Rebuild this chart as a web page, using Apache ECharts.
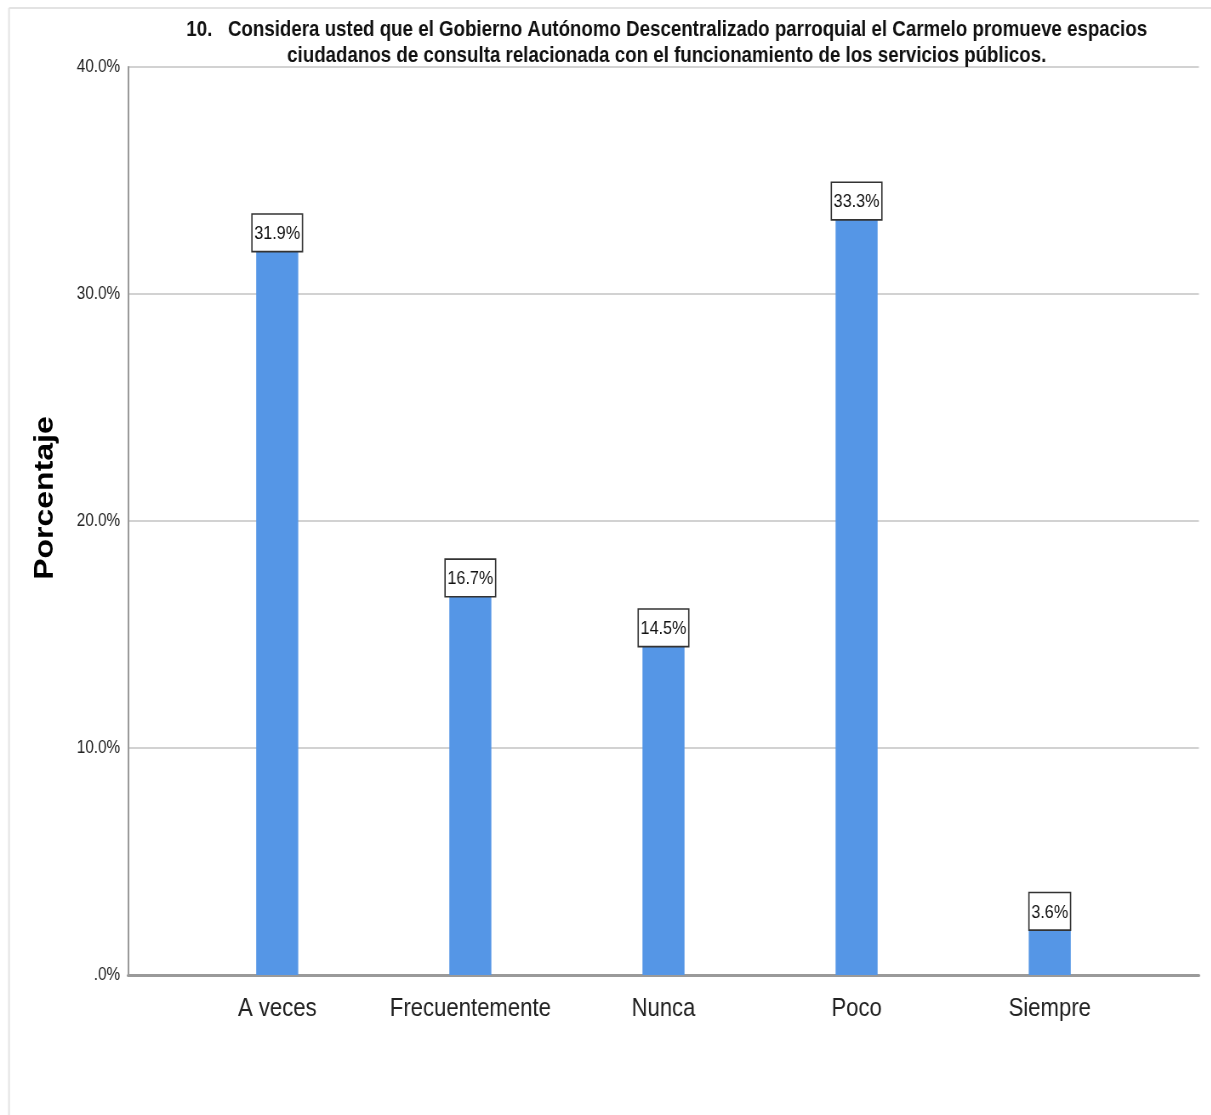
<!DOCTYPE html>
<html>
<head>
<meta charset="utf-8">
<script src="https://cdn.jsdelivr.net/npm/echarts@6/dist/echarts.min.js"></script>
<style>
  html, body { margin: 0; padding: 0; background: #fff; overflow: hidden; width: 1211px; height: 1115px; }
  #chart { height: 1115px; transform-origin: 0 0; }
</style>
</head>
<body>
<div id="chart"></div>
<script>
// Survey answers and their share of respondents (%)
const categories = ['A veces', 'Frecuentemente', 'Nunca', 'Poco', 'Siempre'];
const percentages = [31.9, 16.7, 14.5, 33.3, 3.6];
const yTicks = [0, 10, 20, 30, 40];
const titleLines = [
  '10.   Considera usted que el Gobierno Autónomo Descentralizado parroquial el Carmelo promueve espacios',
  'ciudadanos de consulta relacionada con el funcionamiento de los servicios públicos.'
];
const axisTitle = 'Porcentaje';

// The chart is laid out on a wider canvas and squeezed horizontally,
// which gives the tall, condensed lettering of the exported figure.
const SX = 0.85;
const PAGE_W = 1211;
const W = PAGE_W / SX;
const X = px => px / SX;          // page x -> chart x
const FONT = '"Liberation Sans", Arial, sans-serif';

const el = document.getElementById('chart');
el.style.width = W + 'px';
el.style.transform = 'scaleX(' + SX + ')';

const yMin = yTicks[0];
const yMax = yTicks[yTicks.length - 1];
const yStep = yTicks[1] - yTicks[0];

const labelBox = {
  show: true,
  formatter: p => p.value.toFixed(1) + '%',
  fontFamily: FONT,
  fontSize: 19,
  lineHeight: 22,
  color: '#111',
  backgroundColor: '#fff',
  borderColor: '#333',
  borderWidth: 1.6,
  padding: [8, 2, 6, 2],
  distance: 0
};

const barData = percentages.map(v => ({
  value: v,
  // the smallest bar carries its label just inside its top edge
  label: v < 5 ? { position: 'insideTop' } : { position: 'top' }
}));

const plotLeft = X(128), plotRight = X(1198);
const barLeft = X(180.5), barRight = X(1145.5);

const chart = echarts.init(el, null, { renderer: 'canvas', width: W, height: 1115 });

chart.setOption({
  backgroundColor: '#fff',
  animation: false,
  title: {
    text: titleLines.join('\n'),
    left: X(662),
    top: 12,
    textAlign: 'center',
    textStyle: {
      fontFamily: FONT,
      fontSize: 22,
      fontWeight: 'bold',
      lineHeight: 26,
      color: '#111'
    }
  },
  graphic: [
    { type: 'line', shape: { x1: X(9), y1: 8, x2: W, y2: 8 }, style: { stroke: '#e3e3e3', lineWidth: 2 }, z: 0 },
    { type: 'line', shape: { x1: X(9), y1: 8, x2: X(9), y2: 1115 }, style: { stroke: '#e3e3e3', lineWidth: 2 }, z: 0 },
    {
      type: 'text',
      x: X(45),
      y: 498,
      rotation: Math.PI / 2,
      style: {
        text: axisTitle,
        fontFamily: FONT,
        fontWeight: 'bold',
        fontSize: 32,
        fill: '#000',
        align: 'center',
        verticalAlign: 'middle'
      }
    }
  ],
  grid: [
    { left: plotLeft, right: W - plotRight, top: 67, bottom: 140 },
    { left: barLeft, right: W - barRight, top: 67, bottom: 140 }
  ],
  xAxis: [
    {
      gridIndex: 0,
      type: 'value',
      min: 0,
      max: 1,
      axisLine: { show: true, lineStyle: { color: '#9a9a9a', width: 3 } },
      axisTick: { show: false },
      axisLabel: { show: false },
      splitLine: { show: false }
    },
    {
      gridIndex: 1,
      type: 'category',
      data: categories,
      axisLine: { show: false },
      axisTick: { show: false },
      axisLabel: {
        fontFamily: FONT,
        fontSize: 26,
        color: '#222',
        margin: 21,
        interval: 0
      }
    }
  ],
  yAxis: [
    {
      gridIndex: 0,
      type: 'value',
      min: yMin,
      max: yMax,
      interval: yStep,
      axisLine: { show: true, lineStyle: { color: '#9a9a9a', width: 2 } },
      axisTick: { show: false },
      axisLabel: {
        fontFamily: FONT,
        fontSize: 18,
        color: '#222',
        margin: X(8),
        padding: [8, 0, 0, 0],
        formatter: v => (v === 0 ? '.0%' : v.toFixed(1) + '%')
      },
      splitLine: { show: true, lineStyle: { color: '#d2d2d2', width: 2 } }
    },
    {
      gridIndex: 1,
      type: 'value',
      min: yMin,
      max: yMax,
      interval: yStep,
      show: false,
      splitLine: { show: false }
    }
  ],
  series: [
    {
      type: 'bar',
      xAxisIndex: 1,
      yAxisIndex: 1,
      data: barData,
      barWidth: X(42),
      itemStyle: { color: '#5596e6' },
      label: labelBox,
      z: 3
    }
  ]
});
</script>
</body>
</html>
